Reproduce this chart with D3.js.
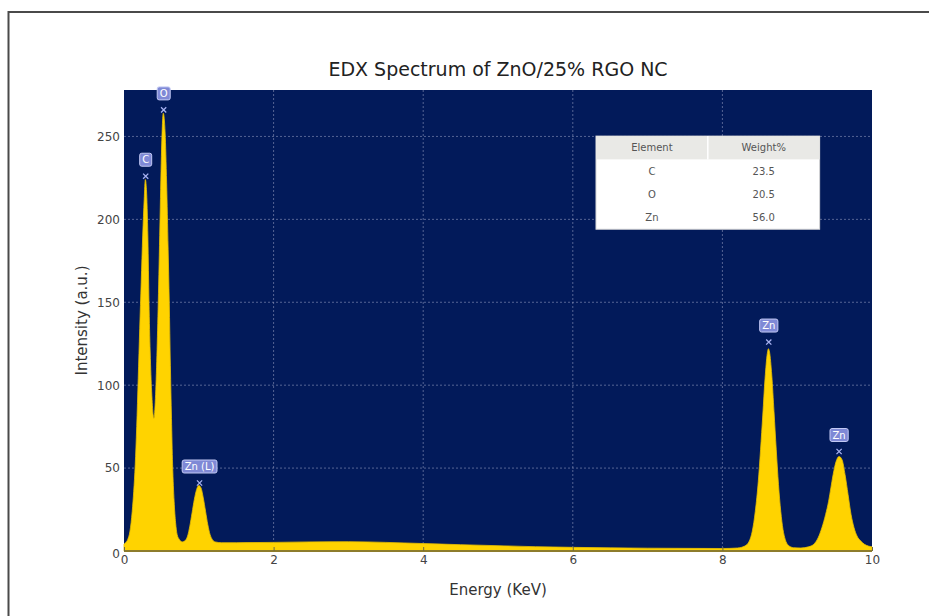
<!DOCTYPE html>
<html>
<head>
<meta charset="utf-8">
<script src="https://cdn.jsdelivr.net/npm/d3@7"></script>
<style>
  html, body { margin: 0; padding: 0; background: #ffffff; }
  svg { display: block; font-family: "DejaVu Sans", sans-serif; }
</style>
</head>
<body>
<svg id="chart" width="929" height="616"></svg>
<script>
// Spectrum samples: energy (keV) and intensity (a.u.)
const energy = [
  0.00, 0.02, 0.05, 0.08, 0.11, 0.13, 0.15, 0.17, 0.19, 0.21, 0.23, 0.25, 0.27, 0.285, 0.30,
  0.32, 0.334, 0.35, 0.37, 0.39, 0.40, 0.42, 0.44, 0.458, 0.48, 0.50, 0.525, 0.55, 0.57, 0.59,
  0.605, 0.62, 0.635, 0.65, 0.67, 0.69, 0.71, 0.74, 0.78, 0.81, 0.85, 0.88, 0.91, 0.94, 0.97,
  1.00, 1.03, 1.06, 1.09, 1.12, 1.15, 1.18, 1.22, 1.30, 1.50, 2.00, 2.50, 3.00, 3.50, 4.00,
  4.50, 5.00, 5.50, 6.00, 6.50, 7.00, 7.50, 8.00, 8.20, 8.30, 8.36, 8.40, 8.44, 8.48, 8.51,
  8.54, 8.57, 8.60, 8.615, 8.63, 8.66, 8.69, 8.72, 8.75, 8.78, 8.81, 8.84, 8.88, 8.95, 9.05,
  9.15, 9.22, 9.28, 9.33, 9.38, 9.42, 9.45, 9.48, 9.52, 9.56, 9.60, 9.64, 9.68, 9.72, 9.76,
  9.80, 9.85, 9.90, 9.95, 10.00
];
const intensity = [
  4, 5, 7, 12, 24, 36, 52, 75, 104, 134, 162, 190, 212, 224, 218,
  188, 150, 120, 96, 82, 80, 92, 118, 150, 196, 238, 264, 252, 222, 182,
  150, 112, 80, 52, 30, 17, 10, 7, 5.5, 6, 9, 15, 23, 31, 37,
  39.5, 38, 32, 24, 16, 10, 7, 5.5, 5, 5, 5.2, 5.5, 5.6, 5.2, 4.5,
  3.8, 3.2, 2.6, 2.2, 1.9, 1.7, 1.6, 1.5, 1.8, 3, 6, 12, 24, 42, 61,
  82, 104, 119, 122, 120, 106, 84, 61, 40, 24, 13, 7, 3.5, 2, 1.8,
  2.5, 4, 8, 14, 22, 30, 38, 46, 54, 57, 55, 46, 34, 22, 14,
  9, 6, 4, 3, 2.5
];

// Peak annotations
const peakLabels = ["C", "O", "Zn (L)", "Zn", "Zn"];
const peakEnergy = [0.29, 0.53, 1.01, 8.62, 9.56];
const peakMark   = [226, 266, 41, 126, 60];

// Composition table
const tableHeader = ["Element", "Weight%"];
const tableElements = ["C", "O", "Zn"];
const tableWeights = ["23.5", "20.5", "56.0"];

const xTicks = [0, 2, 4, 6, 8, 10];
const yTicks = [0, 50, 100, 150, 200, 250];

const svg = d3.select("#chart");
const W = 929, H = 616;
const m = { left: 124, right: 57, top: 90, bottom: 65 };
const pw = W - m.left - m.right, ph = H - m.top - m.bottom;

// outer frame lines
svg.append("line").attr("x1", 8).attr("y1", 12).attr("x2", W).attr("y2", 12)
  .attr("stroke", "#4a4a4a").attr("stroke-width", 2);
svg.append("line").attr("x1", 8.5).attr("y1", 11).attr("x2", 8.5).attr("y2", H)
  .attr("stroke", "#4a4a4a").attr("stroke-width", 2);

const x = d3.scaleLinear().domain([0, 10]).range([m.left, m.left + pw]);
const y = d3.scaleLinear().domain([0, 278]).range([m.top + ph, m.top]);

// plot background
svg.append("rect").attr("x", m.left).attr("y", m.top).attr("width", pw).attr("height", ph)
  .attr("fill", "#021a5a");

// grid
const grid = svg.append("g").attr("stroke", "#9aa3c4").attr("stroke-opacity", 0.55)
  .attr("stroke-dasharray", "2,2").attr("stroke-width", 1);
xTicks.filter(t => t > 0 && t < 10).forEach(t => {
  grid.append("line").attr("x1", x(t)).attr("x2", x(t)).attr("y1", m.top).attr("y2", m.top + ph);
});
yTicks.filter(t => t > 0).forEach(t => {
  grid.append("line").attr("x1", m.left).attr("x2", m.left + pw).attr("y1", y(t)).attr("y2", y(t));
});

// spectrum area
const pts = energy.map((e, i) => [e, intensity[i]]);
const area = d3.area().x(d => x(d[0])).y0(y(0)).y1(d => y(d[1])).curve(d3.curveMonotoneX);
svg.append("path").datum(pts).attr("d", area).attr("fill", "#ffd300")
  .attr("stroke", "#e8bf00").attr("stroke-width", 0.8);

// bottom spine
svg.append("line").attr("x1", m.left).attr("x2", m.left + pw).attr("y1", y(0)).attr("y2", y(0))
  .attr("stroke", "#8d7c2c").attr("stroke-width", 2);

// axes
const xAxis = svg.append("g").attr("transform", `translate(0,${y(0)})`)
  .call(d3.axisBottom(x).tickValues(xTicks).tickFormat(d3.format("d")).tickSize(-4).tickPadding(4));
const yAxis = svg.append("g").attr("transform", `translate(${m.left},0)`)
  .call(d3.axisLeft(y).tickValues(yTicks).tickFormat(d3.format("d")).tickSize(0).tickPadding(4));
[xAxis, yAxis].forEach(a => {
  a.select(".domain").remove();
  a.selectAll(".tick line").attr("stroke", "#6f6a40");
  a.selectAll(".tick text").attr("fill", "#444").style("font-size", "12px")
    .style("font-family", "'DejaVu Sans', sans-serif");
});
yAxis.selectAll(".tick").filter(d => d === 0).select("text").attr("dy", "0.55em");

// peak markers and labels
const pk = svg.append("g");
peakLabels.forEach((lab, i) => {
  const px = x(peakEnergy[i]), py = y(peakMark[i]);
  const s = 2.6;
  pk.append("path").attr("d", `M${px - s},${py - s}L${px + s},${py + s}M${px - s},${py + s}L${px + s},${py - s}`)
    .attr("stroke", "#a9b3f2").attr("stroke-width", 1.3).attr("fill", "none");
  const t = pk.append("text").attr("x", px).attr("y", py - 13).attr("text-anchor", "middle")
    .attr("fill", "#ffffff").style("font-size", "10px").text(lab);
  const bb = t.node().getBBox();
  pk.insert("rect", () => t.node())
    .attr("x", bb.x - 2.5).attr("y", bb.y - 1).attr("width", bb.width + 5).attr("height", bb.height + 2)
    .attr("rx", 2).attr("fill", "#7f89d6").attr("stroke", "#c3c9f4").attr("stroke-width", 1);
});

// composition table
const tx0 = m.left + pw * 0.631, tw = pw * 0.299;
const ty0 = m.top + ph * 0.1, th = ph * 0.202;
const rowH = th / (tableElements.length + 1);
const tb = svg.append("g");
tb.append("rect").attr("x", tx0).attr("y", ty0).attr("width", tw).attr("height", th)
  .attr("fill", "#ffffff").attr("stroke", "#d6d6d6");
tb.append("rect").attr("x", tx0).attr("y", ty0).attr("width", tw).attr("height", rowH)
  .attr("fill", "#e9e9e6");
tb.append("line").attr("x1", tx0 + tw / 2).attr("x2", tx0 + tw / 2).attr("y1", ty0).attr("y2", ty0 + rowH)
  .attr("stroke", "#ffffff").attr("stroke-width", 1.5);
const colX = [tx0 + tw / 4, tx0 + 3 * tw / 4];
tableHeader.forEach((h, j) => {
  tb.append("text").attr("x", colX[j]).attr("y", ty0 + rowH / 2).attr("dy", "0.35em")
    .attr("text-anchor", "middle").attr("fill", "#555").style("font-size", "10px").text(h);
});
tableElements.forEach((el, i) => {
  const cy = ty0 + rowH * (i + 1.5);
  tb.append("text").attr("x", colX[0]).attr("y", cy).attr("dy", "0.35em")
    .attr("text-anchor", "middle").attr("fill", "#555").style("font-size", "10px").text(el);
  tb.append("text").attr("x", colX[1]).attr("y", cy).attr("dy", "0.35em")
    .attr("text-anchor", "middle").attr("fill", "#555").style("font-size", "10px").text(tableWeights[i]);
});

// titles
svg.append("text").attr("x", m.left + pw / 2).attr("y", 76).attr("text-anchor", "middle")
  .attr("fill", "#222").style("font-size", "19px").text("EDX Spectrum of ZnO/25% RGO NC");
svg.append("text").attr("x", m.left + pw / 2).attr("y", 595).attr("text-anchor", "middle")
  .attr("fill", "#333").style("font-size", "15px").text("Energy (KeV)");
svg.append("text").attr("transform", `translate(87,${m.top + ph / 2}) rotate(-90)`)
  .attr("text-anchor", "middle").attr("fill", "#333").style("font-size", "15px").text("Intensity (a.u.)");
</script>
</body>
</html>
